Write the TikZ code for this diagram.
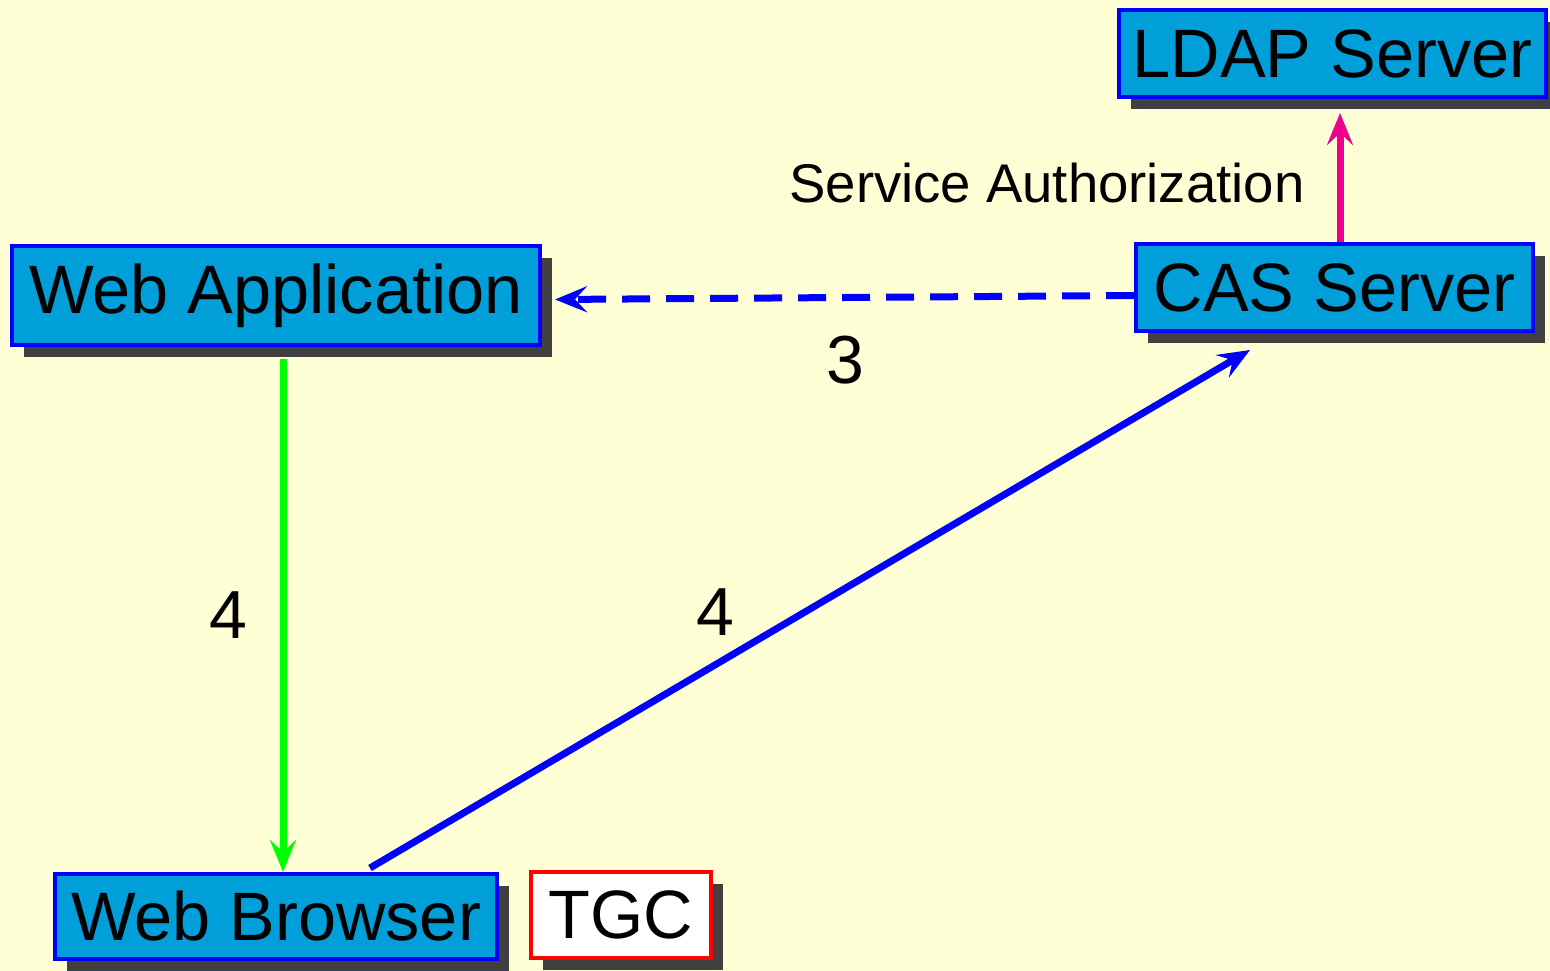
\documentclass[tikz,border=0pt]{standalone}
\usepackage{fontspec}
\setmainfont{Liberation Sans}
\usetikzlibrary{arrows.meta,shadows}
\definecolor{bg}{RGB}{255,255,214}
\definecolor{boxfill}{RGB}{0,159,218}
\definecolor{shadowgray}{RGB}{64,64,64}
\definecolor{magentaarrow}{RGB}{236,0,140}
\begin{document}
\begin{tikzpicture}[x=1pt,y=-1pt,
  box/.style={draw=blue,fill=boxfill,line width=4pt,inner sep=0pt,
    general shadow={fill=shadowgray,shadow xshift=12pt,shadow yshift=-12pt},
    font=\fontsize{68.5}{80}\selectfont},
  tgcbox/.style={box,draw=red,fill=white},
  lbl/.style={inner sep=0pt,font=\fontsize{68}{80}\selectfont},
  slbl/.style={inner sep=0pt,font=\fontsize{54.5}{64}\selectfont},
  arr/.style={line width=7pt,-{Stealth[length=32pt,width=26pt,inset=12pt]}}]
\fill[bg] (0,0) rectangle (1550,971);
\useasboundingbox (0,0) rectangle (1550,971);
\node[box,minimum width=427pt,minimum height=87pt] (ldap) at (1332.5,53.5) {LDAP Server};
\node[box,minimum width=397pt,minimum height=87pt] (cas) at (1334.5,287.5) {CAS Server};
\node[box,minimum width=528pt,minimum height=99pt] (webapp) at (276,295.5) {Web Application};
\node[box,minimum width=442pt,minimum height=85pt] (browser) at (276,916.5) {Web Browser};
\node[tgcbox,minimum width=180pt,minimum height=86pt] (tgc) at (621,915) {TGC};
\node[slbl] (sa) at (1047,183) {Service Authorization};
\node[lbl] (l3) at (845,360) {3};
\node[lbl] (l4a) at (228,615) {4};
\node[lbl] (l4b) at (715,612) {4};
\draw[arr,blue,dash pattern=on 28pt off 16pt] ([yshift=-8pt]cas.west) -- ([xshift=13pt,yshift=-4pt]webapp.east);
\draw[arr,green] ([xshift=7pt,yshift=-12pt]webapp.south) -- ([xshift=7pt]browser.north);
\draw[arr,blue] ([xshift=94pt,yshift=4pt]browser.north) -- ([xshift=-84.5pt,yshift=-17pt]cas.south);
\draw[arr,magentaarrow] ([xshift=5.5pt]cas.north) -- ([xshift=7.5pt,yshift=-14pt]ldap.south);
\end{tikzpicture}
\end{document}
